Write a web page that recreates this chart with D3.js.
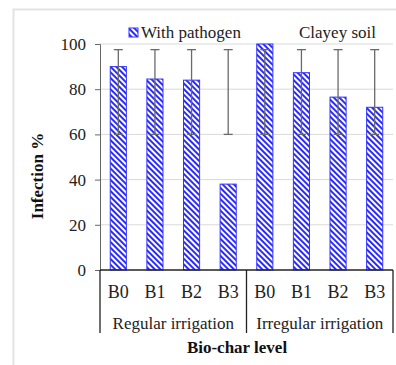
<!DOCTYPE html>
<html>
<head>
<meta charset="utf-8">
<script src="https://cdn.jsdelivr.net/npm/d3@7"></script>
<style>
  body { margin: 0; background: #fff; }
</style>
</head>
<body>
<svg id="canvas" width="396" height="365"></svg>
<script>
// chart data
const irrigation = ['Regular irrigation', 'Irregular irrigation']
const biochar = ['B0', 'B1', 'B2', 'B3']
const infection = [90, 84.5, 84, 38, 100, 87.3, 76.5, 72]
const errLow = [60, 60, 60, 60, 60, 60, 60, 60]
const errHigh = [97.5, 97.5, 97.5, 97.5, 97.5, 97.5, 97.5, 97.5]
const yTicks = [0, 20, 40, 60, 80, 100]

const serif = 'Liberation Serif'

let canvas = d3.select('#canvas')

// light frame around the chart
canvas.append('rect')
    .attr('x', 13.5).attr('y', 9.5)
    .attr('width', 400).attr('height', 400)
    .attr('fill', 'none')
    .attr('stroke', '#e3e3e3')
    .attr('stroke-width', 2)

let defs = canvas.append('defs')
let pat = defs.append('pattern')
    .attr('id', 'hatch')
    .attr('patternUnits', 'userSpaceOnUse')
    .attr('width', 4).attr('height', 4)
    .attr('patternTransform', 'rotate(45)')
pat.append('rect').attr('width', 4).attr('height', 4).attr('fill', '#fff')
pat.append('rect').attr('width', 4).attr('height', 2).attr('fill', '#2a2aff')

let plotLeft = 100, plotRight = 393, plotTop = 44, plotBottom = 270

// one slot for every bar
let slots = []
irrigation.forEach((g) => {
    biochar.forEach((b) => {
        slots.push(g + '|' + b)
    })
})

let x = d3.scaleBand()
    .domain(slots)
    .range([plotLeft, plotRight])
    .paddingInner(0.56)
    .paddingOuter(0.28)

let y = d3.scaleLinear()
    .domain([0, 100])
    .range([plotBottom, plotTop])

// gridlines
canvas.append('g')
    .selectAll('line')
    .data(yTicks.slice(1))
    .enter()
    .append('line')
    .attr('x1', plotLeft).attr('x2', plotRight)
    .attr('y1', (d) => y(d)).attr('y2', (d) => y(d))
    .attr('stroke', '#d9d9d9')
    .attr('stroke-width', 1)

// y axis
let yAxis = canvas.append('g')
    .attr('transform', 'translate(' + plotLeft + ',0)')
    .call(d3.axisLeft(y).tickValues(yTicks).tickSize(5).tickPadding(9))
yAxis.attr('font-family', serif).attr('font-size', 17)
yAxis.select('.domain').attr('stroke', '#666')
yAxis.selectAll('.tick line').attr('stroke', '#666')
yAxis.selectAll('text').attr('fill', '#222').attr('font-family', serif)

// bars
canvas.append('g')
    .selectAll('rect')
    .data(infection)
    .enter()
    .append('rect')
    .attr('x', (d, i) => x(slots[i]))
    .attr('y', (d) => y(d))
    .attr('width', x.bandwidth())
    .attr('height', (d) => y(0) - y(d))
    .attr('fill', 'url(#hatch)')
    .attr('stroke', '#3333ff')
    .attr('stroke-width', 1)

// error bars
let errs = canvas.append('g')
    .selectAll('g')
    .data(infection)
    .enter()
    .append('g')
    .attr('transform', (d, i) => 'translate(' + (x(slots[i]) + x.bandwidth() / 2) + ',0)')
    .attr('stroke', '#6a6a6a')
    .attr('stroke-width', 1.3)
errs.append('line')
    .attr('y1', (d, i) => y(errLow[i]))
    .attr('y2', (d, i) => y(errHigh[i]))
errs.append('line')
    .attr('x1', -4.5).attr('x2', 4.5)
    .attr('y1', (d, i) => y(errHigh[i])).attr('y2', (d, i) => y(errHigh[i]))
errs.append('line')
    .attr('x1', -4.5).attr('x2', 4.5)
    .attr('y1', (d, i) => y(errLow[i])).attr('y2', (d, i) => y(errLow[i]))

// x baseline
canvas.append('line')
    .attr('x1', plotLeft).attr('x2', plotRight)
    .attr('y1', plotBottom).attr('y2', plotBottom)
    .attr('stroke', '#222')
    .attr('stroke-width', 1.3)

// category labels
canvas.append('g')
    .selectAll('text')
    .data(slots)
    .enter()
    .append('text')
    .attr('x', (d) => x(d) + x.bandwidth() / 2)
    .attr('y', 298)
    .attr('text-anchor', 'middle')
    .attr('font-family', serif)
    .attr('font-size', 18)
    .attr('fill', '#222')
    .text((d) => d.split('|')[1])

// group separators and labels
let groupW = (plotRight - plotLeft) / irrigation.length
let seps = [0, 1, 2].map((i) => plotLeft + i * groupW)
canvas.append('g')
    .selectAll('line')
    .data(seps)
    .enter()
    .append('line')
    .attr('x1', (d) => d).attr('x2', (d) => d)
    .attr('y1', plotBottom).attr('y2', 333)
    .attr('stroke', '#222')
    .attr('stroke-width', 1.3)

canvas.append('g')
    .selectAll('text')
    .data(irrigation)
    .enter()
    .append('text')
    .attr('x', (d, i) => plotLeft + groupW * (i + 0.5))
    .attr('y', 329)
    .attr('text-anchor', 'middle')
    .attr('font-family', serif)
    .attr('font-size', 17)
    .attr('fill', '#222')
    .text((d) => d)

// axis titles
canvas.append('text')
    .attr('x', 237).attr('y', 353)
    .attr('text-anchor', 'middle')
    .attr('font-family', serif)
    .attr('font-size', 17)
    .attr('font-weight', 'bold')
    .attr('fill', '#111')
    .text('Bio-char level')

canvas.append('text')
    .attr('transform', 'translate(43,176) rotate(-90)')
    .attr('text-anchor', 'middle')
    .attr('font-family', serif)
    .attr('font-size', 17)
    .attr('font-weight', 'bold')
    .attr('fill', '#111')
    .text('Infection %')

// legend
canvas.append('rect')
    .attr('x', 129).attr('y', 28)
    .attr('width', 9).attr('height', 9)
    .attr('fill', 'url(#hatch)')
    .attr('stroke', '#3333ff')
canvas.append('text')
    .attr('x', 141).attr('y', 38)
    .attr('font-family', serif)
    .attr('font-size', 17)
    .attr('fill', '#222')
    .text('With pathogen')

canvas.append('text')
    .attr('x', 299).attr('y', 38)
    .attr('font-family', serif)
    .attr('font-size', 17)
    .attr('fill', '#222')
    .text('Clayey soil')
</script>
</body>
</html>
